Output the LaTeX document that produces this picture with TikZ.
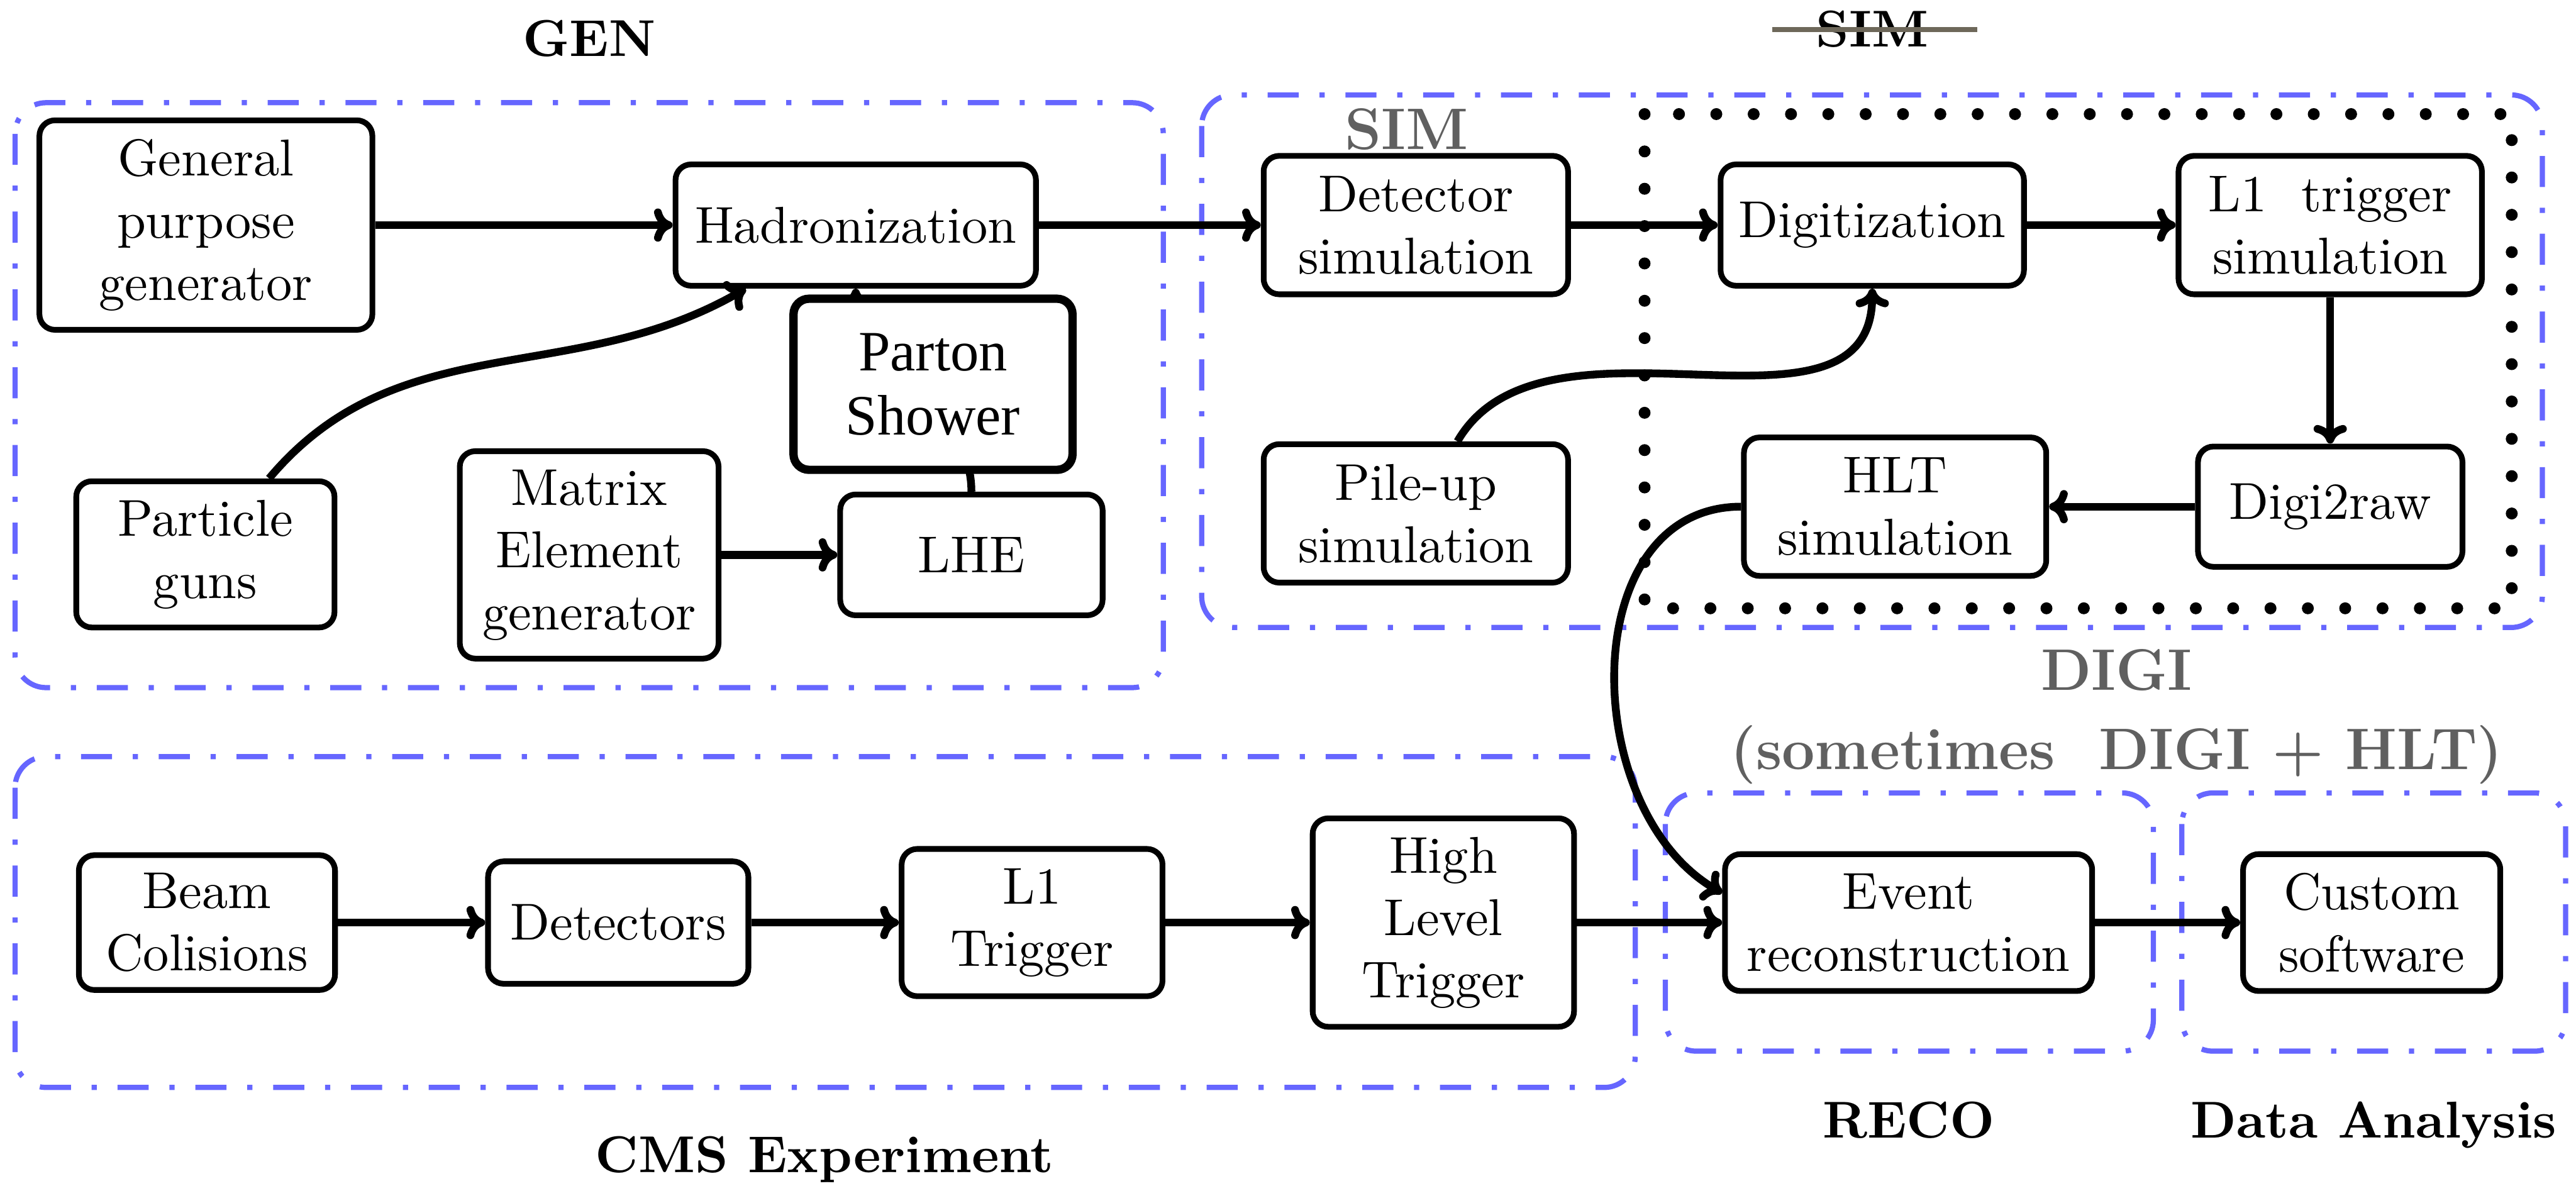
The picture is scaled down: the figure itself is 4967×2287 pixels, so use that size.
\documentclass[tikz,border=0pt]{standalone}
\usepackage{fontspec}
\usepackage{tikz}
\usetikzlibrary{arrows.meta}
\newfontfamily\showerfont{Liberation Serif}
\definecolor{labelgray}{RGB}{96,96,96}
\definecolor{strikegray}{RGB}{110,104,90}
\definecolor{groupblue}{RGB}{102,102,255}
\newcommand*\boxline {1.1pt}
\newcommand*\flowline{1.5pt}
\tikzset{
    stage/.style       = {draw, fill=white, rounded corners=3pt, line width=\boxline,
                         align=center, inner sep=2pt,
                         font=\fontsize{10}{12}\selectfont},
    showerstage/.style = {stage, line width=1.6pt,
                         font=\showerfont\fontsize{11}{12.4}\selectfont},
    group/.style       = {draw=groupblue, line width=1pt, rounded corners=6pt,
                         dash pattern=on 6pt off 4pt on 1pt off 4pt},
    digibox/.style     = {draw, line width=2.3pt, line cap=round,
                         dash pattern=on 0pt off 7.2pt},
    flow/.style        = {-{Computer Modern Rightarrow[length=3.6pt,width=6.4pt]},
                         line width=\flowline},
    steplabel/.style   = {font=\bfseries, anchor=base, inner sep=0pt},
    greylabel/.style   = {font=\fontsize{11.3}{13.5}\selectfont\bfseries,
                         text=labelgray, anchor=base, inner sep=0pt},
  }
\begin{document}
\begin{tikzpicture}[x=0.1pt, y=-0.1pt]
    \useasboundingbox (0,0) rectangle (4967,2287);

    % Dash-dot frames of the chain steps
    \draw[group] (29,198)   rectangle (2243,1326);   % GEN
    \draw[group] (2317,183) rectangle (4902,1210);   % SIM
    \draw[group] (29,1459)  rectangle (3153,2097);   % CMS
    \draw[group] (3211,1529) rectangle (4152,2027);  % RECO
    \draw[group] (4207,1529) rectangle (4947,2027);  % analysis
    % DIGI part of the simulation
    \draw[digibox] (3171,220) rectangle (4843,1173);

    % Step labels
    \node[steplabel] (genlbl) at (1136,108) {GEN};
    \node[steplabel] (simold) at (3610,90) {SIM};
    \draw[strikegray, line width=0.9pt] (3417,57) -- (3813,57);
    \node[greylabel] (simlbl) at (2712,288) {SIM};
    \node[greylabel] (digilbl) at (4081,1331) {DIGI};
    \node[greylabel] (digihlt) at (4081,1484) {(sometimes\ \ DIGI + HLT)};
    \node[steplabel] (cmslbl) at (1590,2261) {CMS Experiment};
    \node[steplabel] (recolbl) at (3680,2194) {RECO};
    \node[steplabel] (analbl) at (4577,2194) {Data Analysis};

    % GEN
    \node[stage, minimum width=64.2pt, minimum height=40.4pt] (gpg) at (397,434) {General\\purpose\\generator};
    \node[stage, minimum width=69.5pt, minimum height=23.4pt] (hadr) at (1650,434) {Hadronization};
    \node[stage, minimum width=49.8pt, minimum height=28.2pt] (guns) at (396,1069) {Particle\\guns};
    \node[stage, minimum width=49.9pt, minimum height=40pt] (meg) at (1136,1070) {Matrix\\Element\\generator};
    \node[stage, minimum width=50.6pt, minimum height=23.3pt] (lhe) at (1873,1070) {LHE};

    % SIM and DIGI
    \node[stage, minimum width=58.7pt, minimum height=26.7pt] (detsim) at (2730,434) {Detector\\simulation};
    \node[stage, minimum width=58.5pt, minimum height=23.4pt] (digit) at (3610,434) {Digitization};
    \node[stage, minimum width=58.5pt, minimum height=26.7pt] (l1sim) at (4493,434) {L1\ \ trigger\\simulation};
    \node[stage, minimum width=58.7pt, minimum height=26.7pt] (pileup) at (2730,990) {Pile-up\\simulation};
    \node[stage, minimum width=58.3pt, minimum height=26.7pt] (hltsim) at (3654,977) {HLT\\simulation};
    \node[stage, minimum width=51pt, minimum height=23.2pt] (digiraw) at (4493,977) {Digi2raw};

    % CMS, RECO and analysis
    \node[stage, minimum width=49.4pt, minimum height=26pt] (beam) at (399,1779) {Beam\\Colisions};
    \node[stage, minimum width=50.2pt, minimum height=23.6pt] (dets) at (1192,1779) {Detectors};
    \node[stage, minimum width=50.3pt, minimum height=28.4pt] (l1trig) at (1990,1779) {L1\\Trigger};
    \node[stage, minimum width=50.4pt, minimum height=40.2pt] (hlt) at (2783,1779) {High\\Level\\Trigger};
    \node[stage, minimum width=70.8pt, minimum height=26.4pt] (reco) at (3680,1779) {Event\\reconstruction};
    \node[stage, minimum width=49.6pt, minimum height=26.4pt] (custom) at (4573,1779) {Custom\\software};

    % Connections
    \draw[flow] (gpg) -- (hadr);
    \draw[flow] (guns) to[out=50,in=-150] (hadr);
    \draw[flow] (meg) -- (lhe);
    \draw[flow] (lhe.north) to[out=90,in=-90] (hadr.south);
    \draw[flow] (hadr) -- (detsim);
    \draw[flow] (detsim) -- (digit);
    \draw[flow] (digit) -- (l1sim);
    \draw[flow] (l1sim) -- (digiraw);
    \draw[flow] (digiraw) -- (hltsim);
    \draw[flow] (pileup) to[out=60,in=-90] (digit);
    \draw[flow] (hltsim.west) to[out=180,in=150,looseness=1.1] (reco.171);
    \draw[flow] (beam) -- (dets);
    \draw[flow] (dets) -- (l1trig);
    \draw[flow] (l1trig) -- (hlt);
    \draw[flow] (hlt) -- (reco);
    \draw[flow] (reco) -- (custom);

    % Parton shower box sits on top of the LHE link
    \node[showerstage, minimum width=53.8pt, minimum height=33pt] (shower) at (1799,741) {Parton\\Shower};
\end{tikzpicture}
\end{document}
